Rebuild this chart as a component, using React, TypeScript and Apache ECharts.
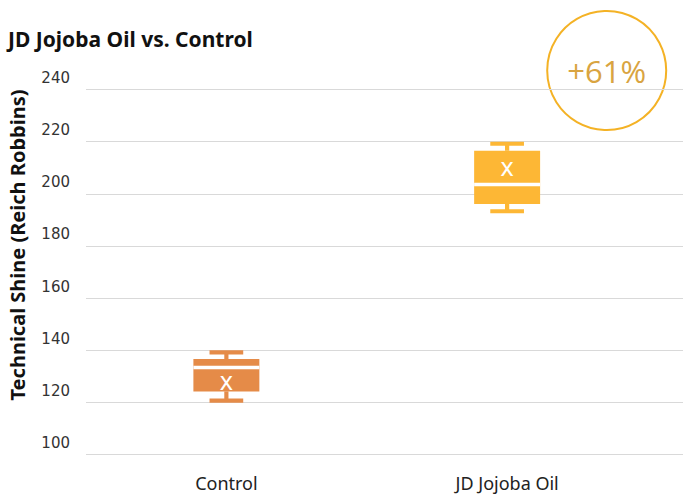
import React, { useEffect, useRef } from "react";
import * as echarts from "echarts";

const categories = ["Control", "JD Jojoba Oil"];
// [min, q1, median, q3, max, mean]
const boxStats = [
  [120.7, 124.2, 133.4, 136.6, 139.2, 127.9],
  [193.3, 196.1, 203.6, 216.5, 219.2, 210.0],
];
const boxColors = ["#E58B48", "#FDB735"];
const yMin = 100;
const yMax = 240;
const yInterval = 20;
const titleText = "JD Jojoba Oil vs. Control";
const yAxisTitle = "Technical Shine (Reich Robbins)";
const changeLabel = "+61%";

export default function App() {
  const ref = useRef<HTMLDivElement>(null);
  useEffect(() => {
    if (!ref.current) return;
    const chart = echarts.init(ref.current, null, { renderer: "svg" });
    const data = boxStats.map((s, i) => [i, ...s]);
    chart.setOption({
      animation: false,
      backgroundColor: "#ffffff",
      title: {
        text: titleText,
        left: 8,
        top: 28,
        padding: 0,
        textStyle: {
          fontFamily: "Noto Sans",
          fontWeight: "bold",
          fontSize: 21,
          color: "#111111",
        },
      },
      grid: [
        { left: 86, right: 35.5, top: 89.5, bottom: 41.5 },
        { left: 86, right: 0, top: 89.5, bottom: 41.5 },
      ],
      xAxis: [
        {
          type: "category",
          gridIndex: 0,
          data: categories,
          axisLine: { show: false },
          axisTick: { show: false },
          axisLabel: {
            fontFamily: "Noto Sans",
            fontSize: 18,
            color: "#222222",
            margin: 19,
          },
        },
        { type: "value", gridIndex: 1, min: 0, max: 1, show: false },
      ],
      yAxis: [
        {
          type: "value",
          gridIndex: 0,
          min: yMin,
          max: yMax,
          interval: yInterval,
          axisLine: { show: false },
          axisTick: { show: false },
          splitLine: { show: false },
          axisLabel: {
            fontFamily: "DejaVu Sans",
            fontSize: 15,
            color: "#333333",
            margin: 16,
            verticalAlign: "bottom",
            lineHeight: 15,
            padding: [0, 0, 4, 0],
          },
        },
        {
          type: "value",
          gridIndex: 1,
          min: yMin,
          max: yMax,
          interval: yInterval,
          axisLine: { show: false },
          axisTick: { show: false },
          axisLabel: { show: false },
          splitLine: { show: true, lineStyle: { color: "#d9d9d9", width: 1 } },
        },
      ],
      graphic: [
        {
          type: "text",
          x: 17,
          y: 245,
          rotation: Math.PI / 2,
          style: {
            text: yAxisTitle,
            fontFamily: "Noto Sans",
            fontWeight: "bold",
            fontSize: 20,
            fill: "#111111",
            align: "center",
            verticalAlign: "middle",
          },
        },
        {
          type: "circle",
          shape: { cx: 606.7, cy: 70.5, r: 59.5 },
          style: { fill: "none", stroke: "#F4B225", lineWidth: 2 },
        },
        {
          type: "text",
          x: 606.7,
          y: 71,
          style: {
            text: changeLabel,
            fontFamily: "Open Sans",
            fontWeight: "normal",
            fontSize: 31,
            fill: "#D9A441",
            align: "center",
            verticalAlign: "middle",
          },
        },
      ],
      series: [
        {
          type: "custom",
          xAxisIndex: 0,
          yAxisIndex: 0,
          data,
          encode: { x: 0, y: [1, 2, 3, 4, 5, 6] },
          renderItem: (params: any, api: any) => {
            const idx = api.value(0);
            const vMin = api.value(1);
            const q1 = api.value(2);
            const med = api.value(3);
            const q3 = api.value(4);
            const vMax = api.value(5);
            const mean = api.value(6);
            const band = api.size([1, 0])[0];
            const boxW = band * 0.235;
            const capW = band * 0.12;
            const pMin = api.coord([idx, vMin]);
            const pQ1 = api.coord([idx, q1]);
            const pMed = api.coord([idx, med]);
            const pQ3 = api.coord([idx, q3]);
            const pMax = api.coord([idx, vMax]);
            const pMean = api.coord([idx, mean]);
            const cx = pMin[0];
            const color = boxColors[params.dataIndex];
            const lw = 4.2;
            return {
              type: "group",
              children: [
                {
                  type: "line",
                  shape: { x1: cx, y1: pMax[1], x2: cx, y2: pQ3[1] },
                  style: { stroke: color, lineWidth: lw },
                },
                {
                  type: "line",
                  shape: { x1: cx, y1: pQ1[1], x2: cx, y2: pMin[1] },
                  style: { stroke: color, lineWidth: lw },
                },
                {
                  type: "line",
                  shape: { x1: cx - capW / 2, y1: pMax[1], x2: cx + capW / 2, y2: pMax[1] },
                  style: { stroke: color, lineWidth: lw },
                },
                {
                  type: "line",
                  shape: { x1: cx - capW / 2, y1: pMin[1], x2: cx + capW / 2, y2: pMin[1] },
                  style: { stroke: color, lineWidth: lw },
                },
                {
                  type: "rect",
                  shape: { x: cx - boxW / 2, y: pQ3[1], width: boxW, height: pQ1[1] - pQ3[1] },
                  style: { fill: color },
                },
                {
                  type: "line",
                  shape: { x1: cx - boxW / 2, y1: pMed[1], x2: cx + boxW / 2, y2: pMed[1] },
                  style: { stroke: "#ffffff", lineWidth: 3.5 },
                },
                {
                  type: "text",
                  x: cx,
                  y: pMean[1] - 2,
                  style: {
                    text: "x",
                    fontFamily: "Noto Sans",
                    fontSize: 25,
                    fill: "#ffffff",
                    align: "center",
                    verticalAlign: "middle",
                  },
                },
              ],
            };
          },
        },
      ],
    });
    return () => chart.dispose();
  }, []);
  return (
    <div
      ref={ref}
      style={{ position: "fixed", left: 0, top: 0, width: 683, height: 496 }}
    />
  );
}
